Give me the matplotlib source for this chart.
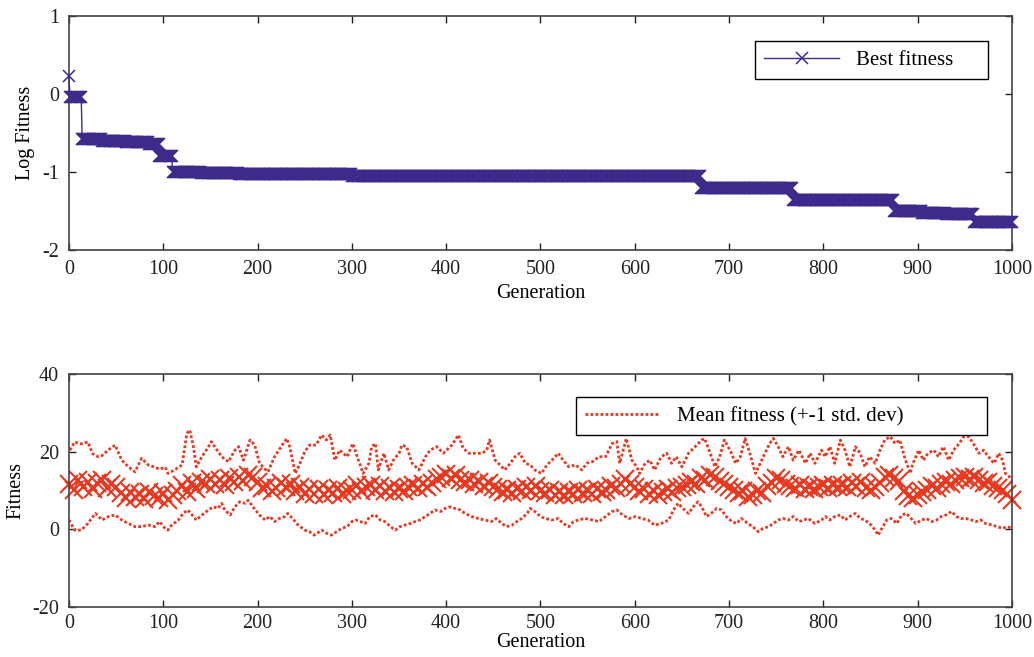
import matplotlib.pyplot as plt
import numpy as np

# ---- top panel: best fitness (log10), piecewise-constant levels
best_step_start = [0, 1, 14, 35, 60, 85, 96, 110, 140, 180, 230, 300, 670, 768, 875, 905, 930, 960]
best_step_level = [0.23, -0.04, -0.58, -0.60, -0.62, -0.64, -0.80, -1.00, -1.01, -1.02, -1.03,
                   -1.05, -1.21, -1.36, -1.50, -1.52, -1.54, -1.64]
n_gen = 1001

# ---- bottom panel: mean fitness, sampled every 5 generations
mean_gen = np.arange(0, 1001, 5)
mean_fit = [
    11.8, 10.2, 12.6, 10.9, 12.1, 10.4, 11.9, 12.8, 10.6, 11.7,
    10.9, 9.4, 8.1, 9.6, 8.3, 9.2, 7.9, 9.5, 8.6, 8.0,
    9.3, 7.6, 8.9, 9.8, 11.5, 9.7, 11.9, 10.4, 12.2, 11.6,
    13.0, 11.8, 12.6, 11.4, 13.2, 12.1, 13.6, 12.4, 14.1, 13.5,
    12.3, 10.6, 11.2, 9.8, 10.7, 11.9, 10.9, 11.6, 9.9, 10.8,
    9.2, 10.4, 9.1, 10.3, 8.9, 10.1, 9.4, 10.6, 9.0, 9.9,
    10.2, 11.3, 9.9, 10.9, 11.5, 10.2, 11.1, 9.8, 10.6, 9.6,
    10.5, 9.8, 10.9, 11.4, 10.6, 11.6, 10.9, 12.0, 12.9, 13.4,
    14.2, 13.1, 13.9, 12.7, 12.1, 12.8, 11.6, 12.3, 11.2, 11.9,
    11.0, 10.3, 9.5, 10.2, 9.3, 10.4, 9.8, 10.9, 10.2, 11.1,
    10.0, 9.4, 10.1, 8.9, 9.7, 8.8, 9.6, 9.1, 10.2, 9.3,
    9.9, 9.2, 10.3, 9.5, 10.1, 11.2, 10.6, 11.8, 12.9, 11.6,
    10.9, 9.8, 10.4, 9.1, 9.8, 8.9, 9.6, 10.3, 9.7, 10.6,
    10.9, 11.4, 12.2, 11.6, 13.3, 12.8, 14.1, 13.6, 12.5, 11.6,
    10.9, 10.2, 9.4, 9.9, 8.3, 8.9, 9.8, 9.3, 11.1, 11.9,
    13.2, 12.6, 11.8, 11.2, 10.6, 11.3, 10.4, 11.0, 10.3, 10.9,
    11.3, 10.6, 11.5, 10.8, 11.4, 10.9, 11.9, 11.2, 12.2, 10.6,
    10.1, 10.9, 11.9, 13.4, 13.9, 13.1, 12.4, 9.9, 8.5, 8.2,
    8.9, 9.6, 10.2, 11.1, 10.6, 11.8, 12.3, 11.7, 12.8, 13.2,
    13.5, 12.9, 13.4, 12.6, 11.9, 12.3, 11.2, 10.6, 10.1, 9.2,
    7.5,
]

# mean + 1 std
upper_gen = [1, 6, 13, 20, 25, 31, 35, 42, 49, 56, 63, 70, 77, 84, 91, 96, 102, 105, 112, 120,
             125, 128, 132, 135, 141, 148, 151, 157, 162, 169, 176, 180, 185, 192, 197, 202, 208, 211, 218, 225,
             231, 234, 240, 245, 250, 255, 262, 268, 273, 277, 282, 287, 295, 301, 307, 312, 318, 321, 325, 328,
             334, 339, 344, 350, 353, 358, 364, 371, 378, 383, 390, 397, 406, 413, 418, 424, 431, 438, 443, 446,
             452, 457, 462, 468, 473, 478, 484, 489, 494, 501, 507, 512, 519, 524, 530, 537, 544, 549, 555, 562,
             569, 576, 581, 584, 591, 597, 602, 605, 611, 616, 621, 628, 634, 639, 644, 650, 657, 664, 671, 674,
             680, 685, 690, 695, 701, 707, 712, 717, 722, 728, 733, 738, 743, 747, 752, 757, 763, 768, 774, 781,
             786, 791, 798, 802, 807, 812, 818, 823, 828, 834, 839, 844, 849, 855, 860, 865, 871, 876, 881, 886,
             892, 895, 901, 906, 911, 917, 922, 927, 933, 938, 944, 949, 954, 959, 965, 970, 975, 981, 986, 990,
             993, 997, 1000]
upper_fit = [20.4, 22.5, 22.0, 22.5, 19.5, 18.7, 19.0, 20.5, 21.7, 17.8, 16.1, 14.8, 18.3, 16.6, 16.0, 15.5, 16.0, 14.4, 15.3, 16.6,
             24.7, 25.6, 21.3, 16.1, 18.7, 21.3, 22.6, 20.4, 18.7, 17.4, 20.4, 21.3, 17.8, 23.0, 21.7, 17.0, 15.5, 14.8, 18.7, 21.3,
             23.4, 21.3, 14.4, 17.0, 20.0, 21.7, 21.7, 24.3, 23.0, 24.3, 17.8, 20.4, 18.7, 22.1, 17.8, 14.4, 17.0, 21.3, 22.1, 15.3,
             19.6, 15.3, 17.8, 19.6, 21.7, 21.3, 17.0, 15.3, 18.7, 20.4, 21.3, 19.6, 21.7, 24.3, 20.9, 19.6, 19.6, 19.6, 20.4, 23.0,
             17.8, 16.6, 15.3, 17.0, 18.7, 19.6, 17.0, 16.6, 15.3, 14.4, 16.6, 17.8, 19.6, 17.8, 16.1, 16.6, 15.3, 17.0, 17.4, 18.7,
             18.7, 22.1, 22.6, 17.0, 23.4, 17.8, 16.1, 14.4, 17.0, 17.8, 15.3, 18.7, 19.6, 17.0, 18.7, 16.1, 19.6, 21.3, 23.0, 23.4,
             19.6, 16.1, 18.7, 23.0, 20.4, 17.0, 18.7, 23.4, 19.6, 14.4, 17.0, 19.6, 22.1, 23.4, 21.3, 18.7, 21.3, 17.8, 20.4, 17.0,
             19.6, 17.0, 20.4, 18.7, 21.3, 17.0, 23.0, 20.4, 16.1, 21.3, 19.6, 16.1, 18.7, 17.0, 20.4, 23.0, 23.9, 22.1, 23.0, 18.7,
             14.4, 17.0, 20.4, 17.8, 19.6, 20.4, 18.7, 21.3, 17.8, 20.4, 22.1, 23.9, 23.9, 22.1, 19.6, 20.4, 18.7, 17.0, 19.6, 17.8,
             14.4, 13.6, 12.7]

# mean - 1 std
lower_gen = [0, 6, 13, 20, 28, 35, 42, 49, 56, 63, 70, 77, 84, 91, 96, 102, 105, 109, 116, 121,
             126, 132, 135, 141, 148, 153, 158, 162, 165, 171, 176, 181, 187, 190, 195, 202, 208, 213, 218, 223,
             229, 232, 237, 243, 250, 255, 260, 268, 273, 278, 284, 289, 295, 300, 304, 309, 314, 319, 325, 330,
             335, 341, 346, 351, 356, 362, 367, 372, 378, 383, 388, 394, 399, 404, 409, 415, 420, 427, 434, 441,
             448, 453, 459, 464, 470, 475, 480, 486, 489, 494, 500, 505, 512, 519, 524, 530, 535, 540, 547, 555,
             562, 569, 576, 581, 587, 594, 601, 607, 614, 621, 628, 636, 641, 646, 651, 657, 662, 667, 671, 676,
             681, 687, 692, 697, 703, 708, 713, 720, 725, 731, 736, 742, 747, 752, 757, 763, 768, 774, 779, 784,
             791, 798, 802, 807, 812, 818, 823, 828, 834, 839, 844, 849, 855, 858, 861, 867, 872, 878, 883, 888,
             893, 898, 904, 909, 915, 920, 925, 930, 936, 941, 946, 951, 957, 962, 967, 972, 979, 984, 990, 995,
             1000]
lower_fit = [2.4, -0.2, -0.2, 1.5, 4.1, 2.4, 3.3, 3.7, 2.4, 1.5, 0.7, 0.7, 1.1, 0.7, 2.0, 0.25, -0.2, 1.1, 2.4, 4.1,
             5.0, 3.3, 2.4, 3.7, 5.0, 5.8, 5.4, 6.7, 5.0, 3.7, 5.8, 7.1, 6.7, 7.5, 5.8, 3.7, 2.4, 3.3, 2.0, 2.8,
             3.3, 4.1, 2.8, 1.1, -0.2, -0.6, -1.5, -0.2, -1.0, -1.5, -0.6, 0.25, 0.7, 2.0, 2.4, 2.0, 1.5, 3.3, 3.7, 2.4,
             2.0, 0.7, -0.2, 0.7, 1.1, 1.5, 2.0, 2.4, 3.3, 4.1, 5.0, 4.6, 5.4, 5.8, 5.4, 5.0, 4.1, 3.3, 2.8, 2.4,
             2.0, 2.8, 1.5, 0.7, 1.1, 2.0, 2.8, 4.1, 5.4, 4.6, 3.3, 2.8, 2.4, 2.8, 1.5, 0.7, 2.0, 2.4, 2.8, 2.4,
             2.0, 3.3, 4.6, 5.0, 3.7, 2.8, 3.3, 2.8, 2.4, 1.1, 1.5, 2.4, 5.0, 6.7, 5.4, 4.1, 5.8, 7.1, 5.8, 3.3,
             4.1, 5.4, 5.0, 3.3, 2.0, 1.5, 2.8, 1.5, 0.7, -0.6, 0.25, 0.7, 1.5, 2.4, 2.8, 2.4, 3.3, 2.0, 2.4, 2.8,
             1.5, 2.4, 3.3, 2.4, 3.3, 3.7, 2.4, 3.3, 4.1, 2.8, 2.4, 1.5, -0.2, -1.5, -0.2, 2.4, 2.8, 1.5, 3.7, 4.1,
             2.8, 1.5, 2.4, 2.8, 2.0, 2.4, 3.3, 3.7, 4.6, 3.3, 2.8, 2.8, 2.4, 2.0, 2.4, 1.5, 1.1, 0.7, 0.25, 0.7,
             0.25]

BLUE = "#3d2a8a"
RED = "#e8381f"

plt.rcParams["font.family"] = ["Liberation Serif", "DejaVu Serif"]
plt.rcParams["font.size"] = 14.5
plt.rcParams["axes.unicode_minus"] = False

best = np.repeat(best_step_level, np.diff(best_step_start + [n_gen]))
gen = np.arange(n_gen)

fig = plt.figure(figsize=(10.34, 6.57), dpi=100)
ax1 = fig.add_axes([0.0667, 0.6195, 0.912, 0.3562])
ax2 = fig.add_axes([0.0667, 0.0761, 0.912, 0.3546])

ax1.plot(gen, best, color=BLUE, marker="x", markersize=9, markeredgewidth=1.1,
         linewidth=1.0, label="Best fitness", clip_on=False, zorder=3)
ax1.set_xlim(0, 1000)
ax1.set_ylim(-2, 1)
ax1.set_yticks([-2, -1, 0, 1])
ax1.set_ylabel("Log Fitness", labelpad=5)
ax1.set_xlabel("Generation", labelpad=4)
leg1 = ax1.legend(loc="upper left", bbox_to_anchor=(0.7275, 0.893, 0.247, 0), mode="expand",
                  handlelength=3.6, handletextpad=0.8, borderpad=0.45, fontsize=15,
                  fancybox=False, framealpha=1, edgecolor="black", borderaxespad=0)

ax2.plot(upper_gen, upper_fit, color=RED, linestyle=(0, (1, 0.8)), linewidth=2.0,
         label="Mean fitness (+-1 std. dev)")
ax2.plot(mean_gen, mean_fit, color=RED, marker="x", markersize=13, markeredgewidth=1.5,
         linewidth=1.3, clip_on=False)
ax2.plot(lower_gen, lower_fit, color=RED, linestyle=(0, (1, 0.8)), linewidth=2.0)
ax2.set_xlim(0, 1000)
ax2.set_ylim(-20, 40)
ax2.set_yticks([-20, 0, 20, 40])
ax2.set_ylabel("Fitness", labelpad=5)
ax2.set_xlabel("Generation", labelpad=0)
leg2 = ax2.legend(loc="upper left", bbox_to_anchor=(0.5376, 0.901, 0.436, 0), mode="expand",
                  handlelength=3.6, handletextpad=0.8, borderpad=0.45, fontsize=15,
                  fancybox=False, framealpha=1, edgecolor="black", borderaxespad=0)

for ax, leg in [(ax1, leg1), (ax2, leg2)]:
    ax.set_xticks(np.arange(0, 1001, 100))
    ax.tick_params(direction="in", top=True, right=True, length=5, width=1, colors="#222222")
    ax.tick_params(axis="x", pad=7)
    ax.tick_params(axis="y", pad=7)
    for side in ax.spines.values():
        side.set_color("#444444")
        side.set_linewidth(1.2)
    leg.get_frame().set_linewidth(1.0)
    leg.set_zorder(5)

ax2.tick_params(axis="x", pad=5)

fig.savefig("out.png", dpi=100)
